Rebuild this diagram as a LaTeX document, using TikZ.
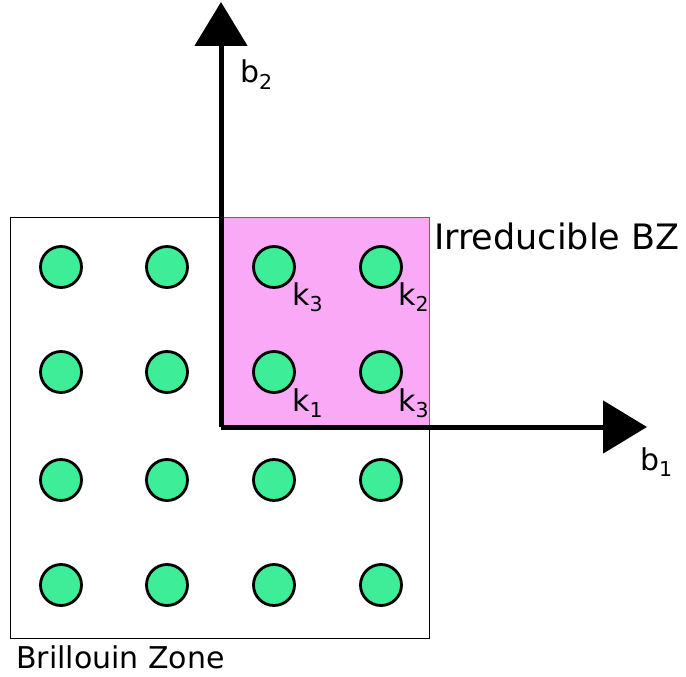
\documentclass[tikz,border=0pt]{standalone}
\usepackage{fontspec}
\setmainfont{DejaVu Sans}
\usetikzlibrary{arrows.meta}

\definecolor{kgreen}{RGB}{62,237,151}
\definecolor{ibzpink}{RGB}{249,169,246}

\newcommand{\lbl}[2]{#1\raisebox{-6.5pt}{\fontsize{20.5}{20}\selectfont #2}}

\begin{document}
\begin{tikzpicture}[x=1pt, y=-1pt,
    kpt/.style={circle, draw=black, fill=kgreen, line width=2.8pt, minimum size=41pt, inner sep=0pt},
    axis/.style={line width=5pt, -{Triangle[length=44pt, width=52pt]}},
    txt/.style={anchor=base west, inner sep=0pt, font=\fontsize{30}{36}\selectfont}]
  \useasboundingbox (0,0) rectangle (686,677);

  % Brillouin zone and irreducible part
  \draw[line width=1pt] (10,217) rectangle (429,638);
  \fill[ibzpink] (221,217) rectangle (429,427);
  \draw[line width=0.8pt, black!60] (221,217) rectangle (429,427);

  % k points
  \foreach \i/\x in {1/61, 2/167, 3/274, 4/381}
    \foreach \j/\y in {1/267, 2/372, 3/480, 4/585}
      \node[kpt] (k\i\j) at (\x,\y) {};

  % reciprocal axes
  \coordinate (o) at (221,427);
  \coordinate (b1end) at (647,427);
  \coordinate (b2end) at (221,2);
  \draw[axis] (o) -- (b1end);
  \draw[axis] (o) -- (b2end);

  % labels
  \node[txt] (l31) at ([shift={(18,38)}]k31) {\lbl{k}{3}};
  \node[txt] (l41) at ([shift={(17,38)}]k41) {\lbl{k}{2}};
  \node[txt] (l32) at ([shift={(18,39)}]k32) {\lbl{k}{1}};
  \node[txt] (l42) at ([shift={(17,39)}]k42) {\lbl{k}{3}};
  \node[txt] (b2) at (240,83) {\lbl{b}{2}};
  \node[txt] (b1) at (640,470) {\lbl{b}{1}};
  \node[txt, font=\fontsize{35}{42}\selectfont] (ibz) at (434,249) {Irreducible BZ};
  \node[txt] (bz) at (16,668) {Brillouin Zone};
\end{tikzpicture}
\end{document}
